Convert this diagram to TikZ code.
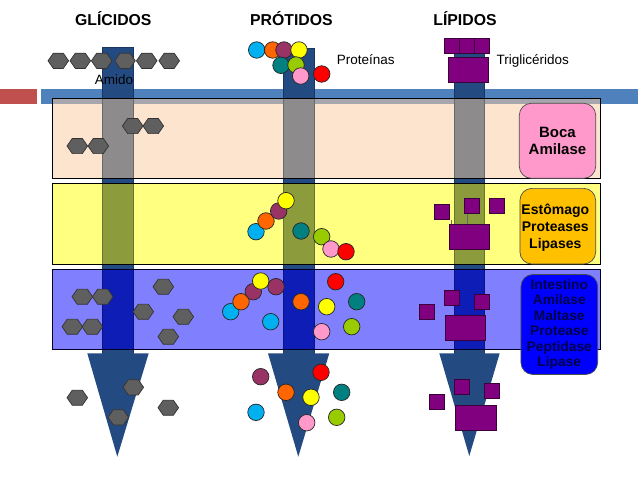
\documentclass[tikz,border=0pt]{standalone}
\usepackage{fontspec}
\setmainfont{Liberation Sans}
\definecolor{hdrred}{HTML}{C0504D}
\definecolor{hdrblue}{HTML}{4F81BD}
\definecolor{arrowC}{HTML}{244B81}
\definecolor{arrowD}{HTML}{1A3560}
\definecolor{bandA}{HTML}{FDE4CF}
\definecolor{bandB}{HTML}{FFFF80}
\definecolor{bandC}{HTML}{8080FF}
\definecolor{stripC}{HTML}{A6A6AC}
\definecolor{shA}{HTML}{8D8B8C}
\definecolor{shB}{HTML}{8C9B3B}
\definecolor{shC}{HTML}{0D1DB5}
\definecolor{cyanC}{HTML}{00B0F0}
\definecolor{orangeC}{HTML}{FF6600}
\definecolor{plumC}{HTML}{993366}
\definecolor{yellowC}{HTML}{FFFF00}
\definecolor{tealC}{HTML}{008080}
\definecolor{limeC}{HTML}{99CC00}
\definecolor{pinkC}{HTML}{FF99CC}
\definecolor{redC}{HTML}{FF0000}
\definecolor{purpC}{HTML}{800080}
\definecolor{purpD}{HTML}{3A003A}
\definecolor{hexC}{HTML}{5F5F5F}
\definecolor{bocaC}{HTML}{FF99CC}
\definecolor{estC}{HTML}{FFC000}
\definecolor{intC}{HTML}{0000FF}
\definecolor{intT}{HTML}{00004A}
\begin{document}
\begin{tikzpicture}[x=1pt,y=-1pt,
  aa/.style={circle,draw=black!85,line width=0.7pt,minimum size=16.5pt,inner sep=0pt},
  sq/.style={rectangle,fill=purpC,draw=purpD,line width=0.6pt,minimum size=15pt,inner sep=0pt},
  bigsq/.style={rectangle,fill=purpC,draw=purpD,line width=0.6pt,inner sep=0pt},
  hexa/.pic={\path[fill=hexC,draw=black!80,line width=0.7pt] (-10.3,0)--(-5,-7.6)--(5,-7.6)--(10.3,0)--(5,7.6)--(-5,7.6)--cycle;},
  shaft/.style={fill=arrowC,draw=arrowD,line width=0.6pt},
  bandline/.style={draw=black,line width=0.9pt},
  enz/.style={rectangle,rounded corners=12pt,draw=black!70,line width=0.7pt,inner sep=0pt,align=center,font=\bfseries},
  hdr/.style={font=\bfseries\fontsize{15.8}{18}\selectfont,anchor=base},
  lbl/.style={font=\fontsize{13.5}{16}\selectfont,anchor=base}
]
\useasboundingbox (0,0) rectangle (638,479);
\fill[white] (0,0) rectangle (638,479);

% header bars
\fill[hdrred] (0,89) rectangle (36.7,104);
\fill[hdrblue] (41,89) rectangle (638,104);

% arrows (shafts and heads)
\path[shaft] (102.3,47.3) rectangle (133.3,354);
\path[fill=arrowC] (87.3,353.3) -- (148.7,353.3) -- (117.3,456.7) -- cycle;
\path[shaft] (283.3,48.3) rectangle (314.3,354);
\path[fill=arrowC] (268,353.3) -- (329.3,353.3) -- (298.3,456.7) -- cycle;
\path[shaft] (454.3,50) rectangle (484.3,354);
\path[fill=arrowC] (439.3,353.3) -- (499.7,353.3) -- (469.3,456) -- cycle;

% band 1
\fill[bandA] (52.3,98.3) rectangle (600,178);
\fill[stripC] (52.3,98.3) rectangle (600,104);
\path[fill=shA,draw=shA!75!black,line width=0.6pt] (102.3,98.3) rectangle (133.3,178);
\path[fill=shA,draw=shA!75!black,line width=0.6pt] (283.3,98.3) rectangle (314.3,178);
\path[fill=shA,draw=shA!75!black,line width=0.6pt] (454.3,98.3) rectangle (484.3,178);
\draw[bandline] (52.3,98.3) rectangle (600,178);

% band 2
\fill[bandB] (52.3,183.3) rectangle (600,264);
\path[fill=shB,draw=shB!75!black,line width=0.6pt] (102.3,183.3) rectangle (133.3,264);
\path[fill=shB,draw=shB!75!black,line width=0.6pt] (283.3,183.3) rectangle (314.3,264);
\path[fill=shB,draw=shB!75!black,line width=0.6pt] (454.3,183.3) rectangle (484.3,264);
\draw[bandline] (52.3,183.3) rectangle (600,264);

% band 3
\fill[bandC] (52.3,269.3) rectangle (600,349.3);
\path[fill=shC,draw=shC!70!black,line width=0.6pt] (102.3,269.3) rectangle (133.3,349.3);
\path[fill=shC,draw=shC!70!black,line width=0.6pt] (283.3,269.3) rectangle (314.3,349.3);
\path[fill=shC,draw=shC!70!black,line width=0.6pt] (454.3,269.3) rectangle (484.3,349.3);
\draw[bandline,draw=black!85!blue] (52.3,269.3) rectangle (600,349.3);

% hexagons (glucids)
\foreach \hx in {58.3,80.3,101.7,125,146.7,169.2} \pic at (\hx,60.8) {hexa};
\pic at (132.7,126) {hexa}; \pic at (153.3,126) {hexa};
\pic at (77.3,146) {hexa}; \pic at (98.3,146) {hexa};
\pic at (82.3,296.7) {hexa}; \pic at (102.7,296.7) {hexa};
\pic at (72.3,326.7) {hexa}; \pic at (92.3,326.7) {hexa};
\pic at (163.3,286.7) {hexa}; \pic at (143.3,311.7) {hexa};
\pic at (183.3,316.7) {hexa}; \pic at (168.3,336.7) {hexa};
\pic at (77.3,397.7) {hexa}; \pic at (133.3,387.3) {hexa};
\pic at (118.3,417.3) {hexa}; \pic at (168.3,407.7) {hexa};

% amino acids: top
\node[aa,fill=cyanC] (ta1) at (256.7,50) {};
\node[aa,fill=orangeC] (ta2) at (272.7,50) {};
\node[aa,fill=plumC] (ta3) at (284,50) {};
\node[aa,fill=yellowC] (ta4) at (299,50) {};
\node[aa,fill=tealC] (ta5) at (281,65.3) {};
\node[aa,fill=limeC] (ta6) at (296,65) {};
\node[aa,fill=pinkC] (ta7) at (300.7,76) {};
\node[aa,fill=redC] (ta8) at (321.7,74) {};
% band 2
\node[aa,fill=cyanC] (sa1) at (256,231.7) {};
\node[aa,fill=orangeC] (sa2) at (266,221) {};
\node[aa,fill=plumC] (sa3) at (278.7,211) {};
\node[aa,fill=yellowC] (sa4) at (286,200.7) {};
\node[aa,fill=tealC] (sa5) at (301,231) {};
\node[aa,fill=limeC] (sa6) at (321.7,236.7) {};
\node[aa,fill=pinkC] (sa7) at (331,249) {};
\node[aa,fill=redC] (sa8) at (346,251.7) {};
% band 3
\node[aa,fill=cyanC] (ia1) at (230.7,311.7) {};
\node[aa,fill=orangeC] (ia2) at (241,301.7) {};
\node[aa,fill=plumC] (ia3) at (253.3,291.7) {};
\node[aa,fill=plumC] (ia4) at (276,286.7) {};
\node[aa,fill=yellowC] (ia5) at (260.7,281) {};
\node[aa,fill=orangeC] (ia6) at (301,301.7) {};
\node[aa,fill=cyanC] (ia7) at (270.7,321.7) {};
\node[aa,fill=redC] (ia8) at (335.7,281.7) {};
\node[aa,fill=yellowC] (ia9) at (326.7,306.7) {};
\node[aa,fill=pinkC] (ia10) at (321.7,331.7) {};
\node[aa,fill=tealC] (ia11) at (356.7,301.7) {};
\node[aa,fill=limeC] (ia12) at (351.7,326.7) {};
% below
\node[aa,fill=plumC] (ba1) at (260.7,376.7) {};
\node[aa,fill=redC] (ba2) at (321,372.3) {};
\node[aa,fill=orangeC] (ba3) at (286,392.3) {};
\node[aa,fill=yellowC] (ba4) at (311,397.3) {};
\node[aa,fill=cyanC] (ba5) at (256,412.3) {};
\node[aa,fill=pinkC] (ba6) at (306.7,422.7) {};
\node[aa,fill=tealC] (ba7) at (341.7,392.3) {};
\node[aa,fill=limeC] (ba8) at (336.7,417.3) {};

% lipids: top
\node[sq] (tq1) at (451.8,45.8) {};
\node[sq] (tq2) at (466.8,45.8) {};
\node[sq] (tq3) at (481.8,45.8) {};
\node[bigsq,minimum width=40pt,minimum height=25pt] (tqb) at (468.3,69.8) {};
% band 2
\node[sq] (sq1) at (441.8,211.8) {};
\node[sq] (sq2) at (471.8,205.8) {};
\node[sq] (sq3) at (496.8,205.8) {};
\node[bigsq,minimum width=40pt,minimum height=24.7pt] (sqb) at (469.3,236.7) {};
\draw[black!60,line width=0.4pt] ([xshift=1.7pt]sqb.north west) -- ([xshift=1.7pt]sqb.north west |- sq1.south);
\draw[black!60,line width=0.4pt] ([xshift=3.5pt]sq2.south west) -- ([xshift=3.5pt]sq2.south west |- sqb.north);
% band 3
\node[sq] (iq1) at (426.8,311.8) {};
\node[sq] (iq2) at (451.8,297.5) {};
\node[sq] (iq3) at (481.8,301.8) {};
\node[bigsq,minimum width=40pt,minimum height=24.6pt] (iqb) at (465.3,328) {};
% below
\node[sq] (bq1) at (436.8,401.8) {};
\node[sq] (bq2) at (461.8,386.8) {};
\node[sq] (bq3) at (491.8,390.8) {};
\node[bigsq,minimum width=41pt,minimum height=25.3pt] (bqb) at (475.8,417.7) {};

% enzyme boxes
\node[enz,fill=bocaC,minimum width=76.4pt,minimum height=75pt,font=\bfseries\fontsize{15}{16.5}\selectfont] (boca) at (557.5,140.8) {Boca\\Amilase};
\node[enz,fill=estC,minimum width=75.7pt,minimum height=75.7pt] (est) at (557.8,226.2) {};
\node[align=center,font=\bfseries\fontsize{14}{16.7}\selectfont,inner sep=0pt] (estT) at (555.3,227.6) {Estômago\\Proteases\\Lipases};
\node[enz,fill=intC,minimum width=76.7pt,minimum height=100pt,text=intT,font=\bfseries\fontsize{13.8}{15.5}\selectfont] (int) at (559.3,324.5) {Intestino\\Amilase\\Maltase\\Protease\\Peptidase\\Lipase};

% labels
\node[hdr] (g) at (113.3,25.3) {GLÍCIDOS};
\node[hdr] (p) at (291.4,25.3) {PRÓTIDOS};
\node[hdr] (l) at (465,25.3) {LÍPIDOS};
\node[lbl] (amido) at (114,84) {Amido};
\node[lbl] (prot) at (365.7,64.3) {Proteínas};
\node[lbl] (trig) at (532.8,64.3) {Triglicéridos};
\end{tikzpicture}
\end{document}
